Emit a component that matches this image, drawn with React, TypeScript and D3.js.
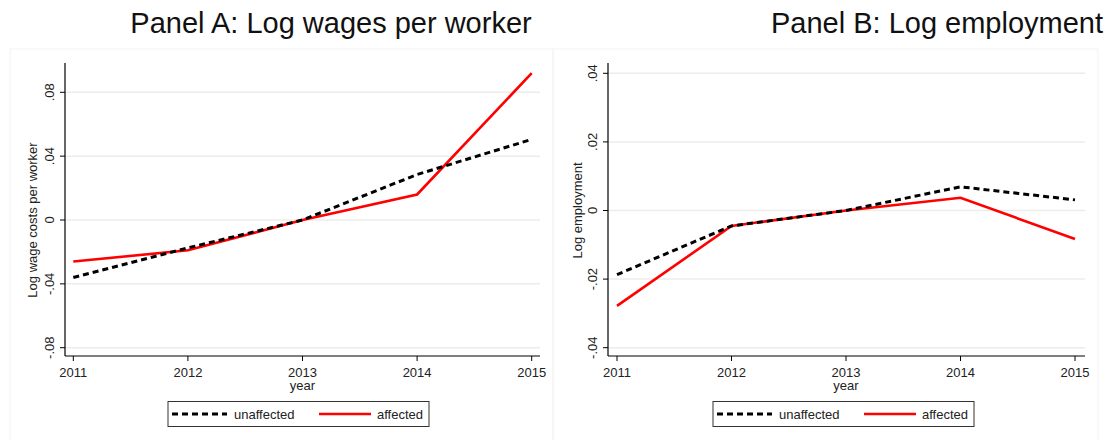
import * as d3 from 'd3'

// years on the x axis
const YEARS = [2011, 2012, 2013, 2014, 2015]

// Panel A: log wage costs per worker
const WAGE_UNAFFECTED = [-0.036, -0.0175, 0, 0.0285, 0.0505]
const WAGE_AFFECTED = [-0.026, -0.019, 0, 0.016, 0.092]
const WAGE_TICKS = [-0.08, -0.04, 0, 0.04, 0.08]
const WAGE_TICK_LABELS = ['-.08', '-.04', '0', '.04', '.08']

// Panel B: log employment
const EMP_UNAFFECTED = [-0.0187, -0.0045, 0, 0.0069, 0.0031]
const EMP_AFFECTED = [-0.0278, -0.0045, 0, 0.0037, -0.0083]
const EMP_TICKS = [-0.04, -0.02, 0, 0.02, 0.04]
const EMP_TICK_LABELS = ['-.04', '-.02', '0', '.02', '.04']

const SERIES_LABELS = ['unaffected', 'affected']

const FONT = '"Liberation Sans", Arial, sans-serif'
const SMALL = 13

type PanelProps = {
  title: string
  titleX: number
  yTitle: string
  frame: [number, number]
  axisX: number
  xRange: [number, number]
  xEnd: number
  yDomain: [number, number]
  yRange: [number, number]
  ticks: number[]
  tickLabels: string[]
  unaffected: number[]
  affected: number[]
  yTitleX: number
  legendX: number
}

const Panel = (p: PanelProps) => {
  const x = d3.scaleLinear().domain([2011, 2015]).range(p.xRange)
  const y = d3.scaleLinear().domain(p.yDomain).range(p.yRange)
  const line = d3.line<number>()
    .x((d, i) => x(YEARS[i]))
    .y(d => y(d))
  const axisY = 356
  const topY = 63
  const midY = (y(p.yDomain[0]) + y(p.yDomain[1])) / 2
  const lx = p.legendX

  return (
    <g>
      {/* faint graph frame */}
      <rect x={p.frame[0]} y={49} width={p.frame[1] - p.frame[0]} height={400}
        fill="none" stroke="#f3f3f3" strokeWidth={1} />
      <text x={p.titleX} y={33} textAnchor="middle" fontSize={29} fontFamily={FONT} fill="#111">
        {p.title}
      </text>

      {/* gridlines */}
      {p.ticks.map(t => (
        <line key={t} x1={p.axisX} x2={p.xEnd} y1={y(t)} y2={y(t)} stroke="#ececec" strokeWidth={1.5} />
      ))}

      {/* y axis */}
      <line x1={p.axisX} x2={p.axisX} y1={topY} y2={axisY} stroke="#000" strokeWidth={1.2} />
      {p.ticks.map((t, i) => (
        <g key={t}>
          <line x1={p.axisX - 5} x2={p.axisX} y1={y(t)} y2={y(t)} stroke="#000" strokeWidth={1} />
          <text transform={`translate(${p.axisX - 11},${y(t)}) rotate(-90)`} textAnchor="middle"
            fontSize={SMALL} fontFamily={FONT} fill="#222">
            {p.tickLabels[i]}
          </text>
        </g>
      ))}
      <text transform={`translate(${p.yTitleX},${midY}) rotate(-90)`} textAnchor="middle"
        fontSize={SMALL} fontFamily={FONT} fill="#222">
        {p.yTitle}
      </text>

      {/* x axis */}
      <line x1={p.axisX} x2={p.xEnd} y1={axisY} y2={axisY} stroke="#000" strokeWidth={1.2} />
      {YEARS.map(yr => (
        <g key={yr}>
          <line x1={x(yr)} x2={x(yr)} y1={axisY} y2={axisY + 5} stroke="#000" strokeWidth={1} />
          <text x={x(yr)} y={376.5} textAnchor="middle" fontSize={SMALL} fontFamily={FONT} fill="#222">{yr}</text>
        </g>
      ))}
      <text x={x(2013)} y={389.5} textAnchor="middle" fontSize={SMALL} fontFamily={FONT} fill="#222">year</text>

      {/* series */}
      <path d={line(p.affected) || ''} fill="none" stroke="#ff0000" strokeWidth={2.6} />
      <path d={line(p.unaffected) || ''} fill="none" stroke="#000" strokeWidth={3} strokeDasharray="6,4" />

      {/* legend */}
      <rect x={lx} y={401.5} width={261} height={25} fill="#fff" stroke="#333" strokeWidth={1} />
      <line x1={lx + 4} x2={lx + 59} y1={414} y2={414} stroke="#000" strokeWidth={3} strokeDasharray="6,4" />
      <text x={lx + 66} y={418.5} fontSize={SMALL} fontFamily={FONT} fill="#222">{SERIES_LABELS[0]}</text>
      <line x1={lx + 151} x2={lx + 203} y1={414} y2={414} stroke="#ff0000" strokeWidth={2.6} />
      <text x={lx + 209} y={418.5} fontSize={SMALL} fontFamily={FONT} fill="#222">{SERIES_LABELS[1]}</text>
    </g>
  )
}

const App = () => {
  return (
    <svg width={1110} height={440} style={{ position: 'fixed', top: 0, left: 0, background: '#fff' }}>
      <rect width={1110} height={440} fill="#fff" />
      <Panel
        title="Panel A: Log wages per worker"
        titleX={331}
        yTitle="Log wage costs per worker"
        frame={[10, 553]}
        axisX={65}
        xRange={[73.3, 531.7]}
        xEnd={540}
        yDomain={[-0.08, 0.08]}
        yRange={[347.7, 92.3]}
        ticks={WAGE_TICKS}
        tickLabels={WAGE_TICK_LABELS}
        unaffected={WAGE_UNAFFECTED}
        affected={WAGE_AFFECTED}
        yTitleX={37}
        legendX={168}
      />
      <Panel
        title="Panel B: Log employment"
        titleX={937}
        yTitle="Log employment"
        frame={[553, 1098]}
        axisX={608}
        xRange={[617, 1075]}
        xEnd={1085}
        yDomain={[-0.04, 0.04]}
        yRange={[347.7, 73.3]}
        ticks={EMP_TICKS}
        tickLabels={EMP_TICK_LABELS}
        unaffected={EMP_UNAFFECTED}
        affected={EMP_AFFECTED}
        yTitleX={582}
        legendX={713}
      />
    </svg>
  )
}

export default App
